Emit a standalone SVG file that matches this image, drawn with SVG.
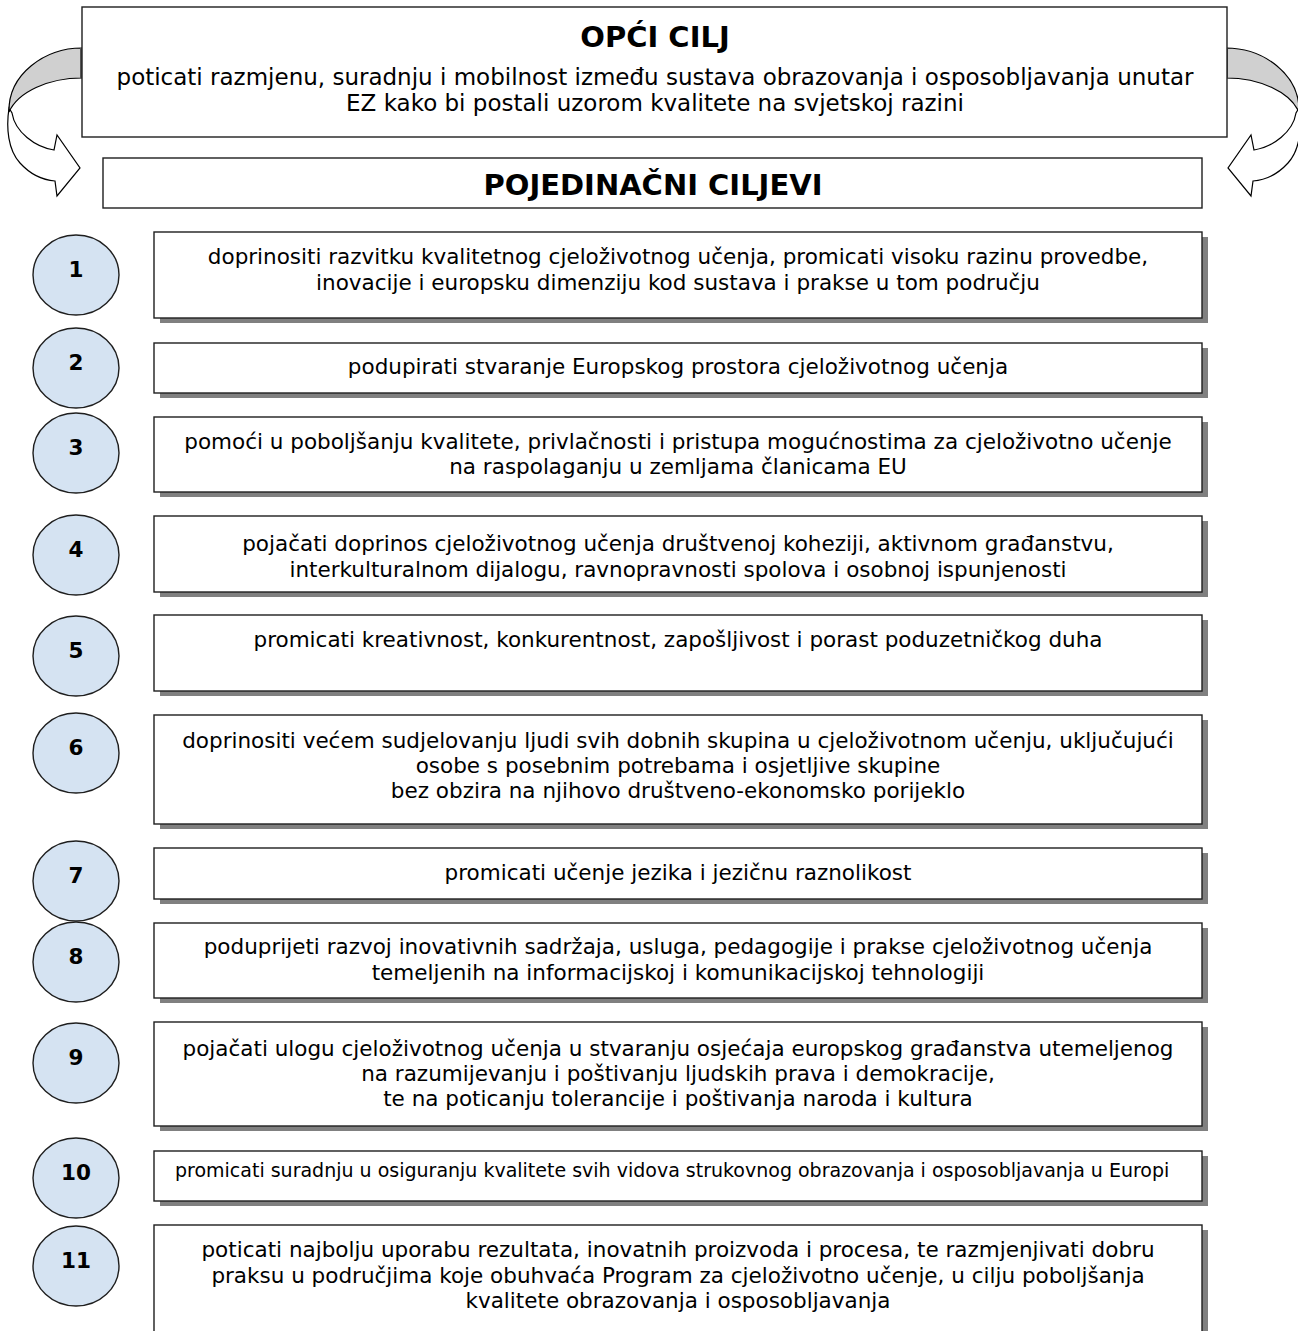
<svg xmlns="http://www.w3.org/2000/svg" width="1298" height="1331" viewBox="0 0 1298 1331">
<style>
  .box{fill:#fff;stroke:#1e1e1e;stroke-width:1.4}
  .sh{fill:#808080}
  .c{fill:#d5e3f2;stroke:#1e1e1e;stroke-width:1.4}
  .t{font-family:"DejaVu Sans",Verdana,sans-serif;font-size:21.5px;fill:#000;text-anchor:middle}
  .top{font-size:23px}
  .s{font-size:19px;text-anchor:start}
  .n{font-family:"DejaVu Sans",Verdana,sans-serif;font-size:21.5px;font-weight:bold;fill:#000;text-anchor:middle}
  .h{font-family:"DejaVu Sans",Verdana,sans-serif;font-size:29px;font-weight:bold;fill:#000;text-anchor:middle}
  .aw{fill:#fff;stroke:#000;stroke-width:1.2;stroke-linejoin:miter}
  .ag{fill:#d0d0d0;stroke:#000;stroke-width:1.2}
</style>
<defs>
  <g id="arrow">
    <path class="aw" d="M9,108 C6,128 8,150 20,163 C30,174 42,180 55,181 L57,196 L80,168 L57,135 L54,150 C35,147 15,132 12,113 Z"/>
    <path class="ag" d="M82,48 C45,48 8,74 9,112 C18,92 48,78 82,78 Z"/>
    <line x1="81" y1="48" x2="81" y2="78" stroke="#555" stroke-width="2"/>
  </g>
</defs>
<g id="connectors">
  <use href="#arrow"/>
  <use href="#arrow" transform="translate(1308,0) scale(-1,1)"/>
</g>
<g id="general-goal">
  <rect class="box" x="82" y="7" width="1145" height="130"/>
  <text class="h" x="655" y="47">OPĆI CILJ</text>
  <text class="t top" x="655" y="85">poticati razmjenu, suradnju i mobilnost između sustava obrazovanja i osposobljavanja unutar</text>
  <text class="t top" x="655" y="111">EZ kako bi postali uzorom kvalitete na svjetskoj razini</text>
</g>
<g id="specific-goals-header">
  <rect class="box" x="103" y="158" width="1099" height="50"/>
  <text class="h" x="653" y="195">POJEDINAČNI CILJEVI</text>
</g>
<g id="goal-1">
  <ellipse class="c" cx="76" cy="275" rx="43" ry="40"/>
  <text class="n" x="76" y="277">1</text>
  <rect class="sh" x="160" y="237" width="1048" height="86"/>
  <rect class="box" x="154" y="232" width="1048" height="86"/>
  <text class="t" x="678" y="264">doprinositi razvitku kvalitetnog cjeloživotnog učenja, promicati visoku razinu provedbe,</text>
  <text class="t" x="678" y="290">inovacije i europsku dimenziju kod sustava i prakse u tom području</text>
</g>
<g id="goal-2">
  <ellipse class="c" cx="76" cy="368" rx="43" ry="40"/>
  <text class="n" x="76" y="370">2</text>
  <rect class="sh" x="160" y="348" width="1048" height="50"/>
  <rect class="box" x="154" y="343" width="1048" height="50"/>
  <text class="t" x="678" y="374">podupirati stvaranje Europskog prostora cjeloživotnog učenja</text>
</g>
<g id="goal-3">
  <ellipse class="c" cx="76" cy="453" rx="43" ry="40"/>
  <text class="n" x="76" y="455">3</text>
  <rect class="sh" x="160" y="422" width="1048" height="75"/>
  <rect class="box" x="154" y="417" width="1048" height="75"/>
  <text class="t" x="678" y="449">pomoći u poboljšanju kvalitete, privlačnosti i pristupa mogućnostima za cjeloživotno učenje</text>
  <text class="t" x="678" y="474">na raspolaganju u zemljama članicama EU</text>
</g>
<g id="goal-4">
  <ellipse class="c" cx="76" cy="555" rx="43" ry="40"/>
  <text class="n" x="76" y="557">4</text>
  <rect class="sh" x="160" y="521" width="1048" height="76"/>
  <rect class="box" x="154" y="516" width="1048" height="76"/>
  <text class="t" x="678" y="551">pojačati doprinos cjeloživotnog učenja društvenoj koheziji, aktivnom građanstvu,</text>
  <text class="t" x="678" y="577">interkulturalnom dijalogu, ravnopravnosti spolova i osobnoj ispunjenosti</text>
</g>
<g id="goal-5">
  <ellipse class="c" cx="76" cy="656" rx="43" ry="40"/>
  <text class="n" x="76" y="658">5</text>
  <rect class="sh" x="160" y="620" width="1048" height="76"/>
  <rect class="box" x="154" y="615" width="1048" height="76"/>
  <text class="t" x="678" y="647">promicati kreativnost, konkurentnost, zapošljivost i porast poduzetničkog duha</text>
</g>
<g id="goal-6">
  <ellipse class="c" cx="76" cy="753" rx="43" ry="40"/>
  <text class="n" x="76" y="755">6</text>
  <rect class="sh" x="160" y="720" width="1048" height="109"/>
  <rect class="box" x="154" y="715" width="1048" height="109"/>
  <text class="t" x="678" y="748">doprinositi većem sudjelovanju ljudi svih dobnih skupina u cjeloživotnom učenju, uključujući</text>
  <text class="t" x="678" y="773">osobe s posebnim potrebama i osjetljive skupine</text>
  <text class="t" x="678" y="798">bez obzira na njihovo društveno-ekonomsko porijeklo</text>
</g>
<g id="goal-7">
  <ellipse class="c" cx="76" cy="881" rx="43" ry="40"/>
  <text class="n" x="76" y="883">7</text>
  <rect class="sh" x="160" y="853" width="1048" height="51"/>
  <rect class="box" x="154" y="848" width="1048" height="51"/>
  <text class="t" x="678" y="880">promicati učenje jezika i jezičnu raznolikost</text>
</g>
<g id="goal-8">
  <ellipse class="c" cx="76" cy="962" rx="43" ry="40"/>
  <text class="n" x="76" y="964">8</text>
  <rect class="sh" x="160" y="928" width="1048" height="75"/>
  <rect class="box" x="154" y="923" width="1048" height="75"/>
  <text class="t" x="678" y="954">poduprijeti razvoj inovativnih sadržaja, usluga, pedagogije i prakse cjeloživotnog učenja</text>
  <text class="t" x="678" y="980">temeljenih na informacijskoj i komunikacijskoj tehnologiji</text>
</g>
<g id="goal-9">
  <ellipse class="c" cx="76" cy="1063" rx="43" ry="40"/>
  <text class="n" x="76" y="1065">9</text>
  <rect class="sh" x="160" y="1027" width="1048" height="104"/>
  <rect class="box" x="154" y="1022" width="1048" height="104"/>
  <text class="t" x="678" y="1056">pojačati ulogu cjeloživotnog učenja u stvaranju osjećaja europskog građanstva utemeljenog</text>
  <text class="t" x="678" y="1081">na razumijevanju i poštivanju ljudskih prava i demokracije,</text>
  <text class="t" x="678" y="1106">te na poticanju tolerancije i poštivanja naroda i kultura</text>
</g>
<g id="goal-10">
  <ellipse class="c" cx="76" cy="1178" rx="43" ry="40"/>
  <text class="n" x="76" y="1180">10</text>
  <rect class="sh" x="160" y="1156" width="1048" height="50"/>
  <rect class="box" x="154" y="1151" width="1048" height="50"/>
  <text class="t s" x="175" y="1177">promicati suradnju u osiguranju kvalitete svih vidova strukovnog obrazovanja i osposobljavanja u Europi</text>
</g>
<g id="goal-11">
  <ellipse class="c" cx="76" cy="1266" rx="43" ry="40"/>
  <text class="n" x="76" y="1268">11</text>
  <rect class="sh" x="160" y="1230" width="1048" height="130"/>
  <rect class="box" x="154" y="1225" width="1048" height="130"/>
  <text class="t" x="678" y="1257">poticati najbolju uporabu rezultata, inovatnih proizvoda i procesa, te razmjenjivati dobru</text>
  <text class="t" x="678" y="1283">praksu u područjima koje obuhvaća Program za cjeloživotno učenje, u cilju poboljšanja</text>
  <text class="t" x="678" y="1308">kvalitete obrazovanja i osposobljavanja</text>
</g>
</svg>
